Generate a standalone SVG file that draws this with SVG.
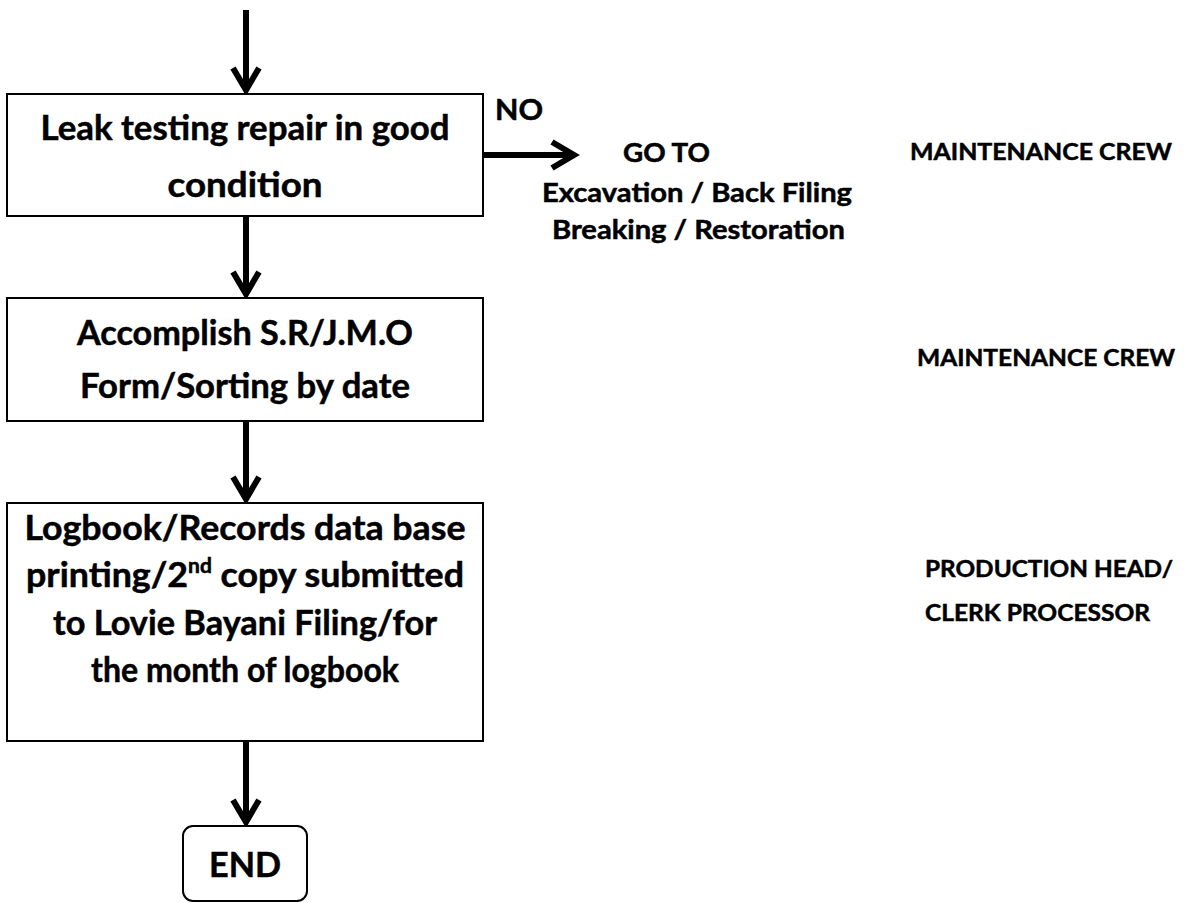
<svg xmlns="http://www.w3.org/2000/svg" width="1191" height="903" viewBox="0 0 1191 903">
  <style>
    text { font-family: Lato, "Liberation Sans", sans-serif; font-weight: bold; fill: #000; stroke: #000; stroke-width: 0.5; }
    .box { fill: #fff; stroke: #000; stroke-width: 2; }
    .step { font-size: 34px; text-anchor: middle; }
    .note { font-size: 26px; }
    .role { font-size: 23.5px; }
    .flow { stroke: #000; stroke-width: 6; fill: none; marker-end: url(#chev); }
  </style>
  <defs>
    <marker id="chev" markerUnits="userSpaceOnUse" markerWidth="1" markerHeight="1" refX="0" refY="0" orient="auto" overflow="visible">
      <path d="M-23,-13 L-1,0 L-23,13" fill="none" stroke="#000" stroke-width="6" stroke-linejoin="miter"/>
    </marker>
  </defs>
  <rect width="1191" height="903" fill="#fff"/>

  <g id="connectors">
    <path class="flow" d="M246,10 V91"/>
    <path class="flow" d="M483,155 H575"/>
    <path class="flow" d="M246,217 V295"/>
    <path class="flow" d="M246,421 V500"/>
    <path class="flow" d="M246,742 V823"/>
  </g>

  <g id="leak-test">
    <rect class="box" x="7" y="94" width="476" height="122"/>
    <text class="step" x="245" y="140" textLength="409" lengthAdjust="spacingAndGlyphs">Leak testing repair in good</text>
    <text class="step" x="245" y="197" textLength="155" lengthAdjust="spacingAndGlyphs">condition</text>
  </g>

  <g id="no-branch">
    <text x="495" y="120" font-size="28" textLength="48" lengthAdjust="spacingAndGlyphs">NO</text>
    <text class="note" x="623" y="162" textLength="87" lengthAdjust="spacingAndGlyphs">GO TO</text>
    <text class="note" x="542" y="202" textLength="310" lengthAdjust="spacingAndGlyphs">Excavation / Back Filing</text>
    <text class="note" x="552" y="239" textLength="293" lengthAdjust="spacingAndGlyphs">Breaking / Restoration</text>
  </g>

  <g id="accomplish">
    <rect class="box" x="7" y="298" width="476" height="123"/>
    <text class="step" x="245" y="345" textLength="336" lengthAdjust="spacingAndGlyphs">Accomplish S.R/J.M.O</text>
    <text class="step" x="245" y="398" textLength="330" lengthAdjust="spacingAndGlyphs">Form/Sorting by date</text>
  </g>

  <g id="logbook">
    <rect class="box" x="7" y="503" width="476" height="238"/>
    <text class="step" x="245" y="540" textLength="441" lengthAdjust="spacingAndGlyphs">Logbook/Records data base</text>
    <text class="step" x="245" y="587" textLength="438" lengthAdjust="spacingAndGlyphs">printing/2<tspan font-size="20" dy="-14">nd</tspan><tspan dy="14"> copy submitted</tspan></text>
    <text class="step" x="245" y="635" textLength="384" lengthAdjust="spacingAndGlyphs">to Lovie Bayani Filing/for</text>
    <text class="step" x="245" y="682" textLength="308" lengthAdjust="spacingAndGlyphs">the month of logbook</text>
  </g>

  <g id="end">
    <rect class="box" x="183" y="826" width="124" height="75" rx="10"/>
    <text class="step" x="245" y="877" font-size="33" textLength="72" lengthAdjust="spacingAndGlyphs">END</text>
  </g>

  <g id="roles">
    <text class="role" x="910" y="160" textLength="262" lengthAdjust="spacingAndGlyphs">MAINTENANCE CREW</text>
    <text class="role" x="917" y="366" textLength="258" lengthAdjust="spacingAndGlyphs">MAINTENANCE CREW</text>
    <text class="role" x="925" y="577" textLength="248" lengthAdjust="spacingAndGlyphs">PRODUCTION HEAD/</text>
    <text class="role" x="925" y="621" textLength="225" lengthAdjust="spacingAndGlyphs">CLERK PROCESSOR</text>
  </g>
</svg>
